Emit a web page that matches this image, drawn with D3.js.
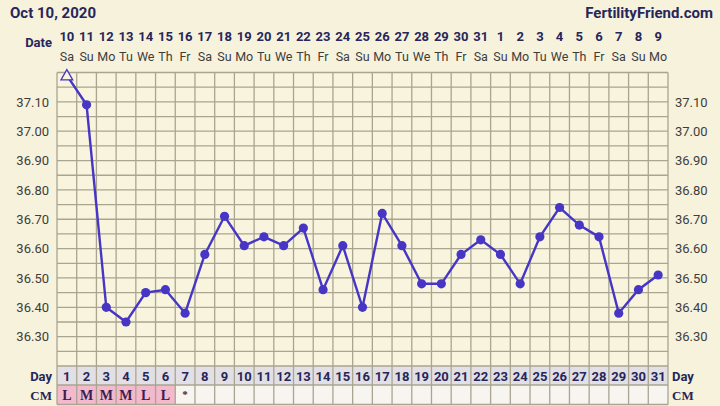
<!DOCTYPE html>
<html><head><meta charset="utf-8">
<script src="https://cdn.jsdelivr.net/npm/d3@7"></script>
<style>
html,body{margin:0;padding:0;background:#f7f2dc;}
svg{display:block;font-family:Roboto,"Noto Sans",sans-serif;}
</style></head>
<body>
<svg id="c" width="720" height="406"></svg>
<script>
const title = "Oct 10, 2020";
const site = "FertilityFriend.com";
const cycleDays = d3.range(1, 32);
const dates = ["10","11","12","13","14","15","16","17","18","19","20","21","22","23","24","25","26","27","28","29","30","31","1","2","3","4","5","6","7","8","9"];
const weekdays = ["Sa","Su","Mo","Tu","We","Th","Fr","Sa","Su","Mo","Tu","We","Th","Fr","Sa","Su","Mo","Tu","We","Th","Fr","Sa","Su","Mo","Tu","We","Th","Fr","Sa","Su","Mo"];
const temps = [37.19,37.09,36.40,36.35,36.45,36.46,36.38,36.58,36.71,36.61,36.64,36.61,36.67,36.46,36.61,36.40,36.72,36.61,36.48,36.48,36.58,36.63,36.58,36.48,36.64,36.74,36.68,36.64,36.38,36.46,36.51];
const discarded = [1];
const cm = ["L","M","M","M","L","L","*","","","","","","","","","","","","","","","","","","","","","","","",""];
const yTicks = [36.3,36.4,36.5,36.6,36.7,36.8,36.9,37.0,37.1];

const svg = d3.select("#c");
const X0 = 57, X1 = 668, YT = 72.5, YB = 366, DAYB = 385, CMB = 404.5;
const x = d3.scaleLinear().domain([0.5, 31.5]).range([X0, X1]);
const y = d3.scaleLinear().domain([36.2, 37.2]).range([YB, YT]);
const colW = x(2) - x(1);

// background
svg.append("rect").attr("width",720).attr("height",406).attr("fill","#f7f2dc");
svg.append("rect").attr("x",X0).attr("y",YT).attr("width",X1-X0).attr("height",YB-YT).attr("fill","#f8f4dd");

// table rows
svg.append("g").selectAll("rect").data(cycleDays).join("rect")
  .attr("x", d => x(d) - colW/2).attr("y", YB).attr("width", colW).attr("height", DAYB-YB)
  .attr("fill", "#e2e0e4");
svg.append("g").selectAll("rect").data(cycleDays).join("rect")
  .attr("x", d => x(d) - colW/2).attr("y", DAYB).attr("width", colW).attr("height", CMB-DAYB)
  .attr("fill", (d,i) => (cm[i] && cm[i] !== "*") ? "#f3b9cc" : "#f6f5ef");

// grid
const gridColor = "#a9a591";
const hLines = d3.range(0, 21).map(i => 36.2 + i*0.05);
svg.append("g").selectAll("line").data(hLines).join("line")
  .attr("x1", X0).attr("x2", X1).attr("y1", d => y(d)).attr("y2", d => y(d))
  .attr("stroke", gridColor).attr("stroke-width", 1.3);
svg.append("g").selectAll("line").data(d3.range(0, 32)).join("line")
  .attr("x1", d => x(d + 0.5)).attr("x2", d => x(d + 0.5)).attr("y1", YT).attr("y2", CMB)
  .attr("stroke", gridColor).attr("stroke-width", 1.3);
svg.append("line").attr("x1",X0).attr("x2",X1).attr("y1",DAYB).attr("y2",DAYB).attr("stroke",gridColor).attr("stroke-width",1.3);
svg.append("line").attr("x1",X0).attr("x2",X1).attr("y1",CMB).attr("y2",CMB).attr("stroke",gridColor).attr("stroke-width",1.3);

// y axes
const fmt = d3.format(".2f");
const left = svg.append("g").attr("transform", `translate(${X0-5},0)`)
  .call(d3.axisLeft(y).tickValues(yTicks).tickFormat(fmt).tickSize(0));
const right = svg.append("g").attr("transform", `translate(${X1+4},0)`)
  .call(d3.axisRight(y).tickValues(yTicks).tickFormat(fmt).tickSize(0));
[left, right].forEach(g => {
  g.select(".domain").remove();
  g.selectAll("text").attr("font-family","Roboto,sans-serif").attr("font-size",13).attr("fill","#3d3d3d");
});

// header
svg.append("text").attr("x",10).attr("y",18).text(title)
  .attr("font-size",15).attr("font-weight","bold").attr("fill","#26265a");
svg.append("text").attr("x",713).attr("y",18).attr("text-anchor","end").text(site)
  .attr("font-size",15).attr("font-weight","bold").attr("fill","#26265a");
svg.append("text").attr("x",52).attr("y",47).attr("text-anchor","end").text("Date")
  .attr("font-size",13).attr("font-weight","bold").attr("fill","#26265a");
svg.append("g").selectAll("text").data(cycleDays).join("text")
  .attr("x", d => x(d)).attr("y", 41).attr("text-anchor","middle")
  .text((d,i) => dates[i]).attr("font-size",13).attr("font-weight","bold").attr("fill","#26265a");
svg.append("g").selectAll("text").data(cycleDays).join("text")
  .attr("x", d => x(d)).attr("y", 61).attr("text-anchor","middle")
  .text((d,i) => weekdays[i]).attr("font-size",12.5).attr("fill","#3d3d3d");

// table labels
svg.append("text").attr("x",52).attr("y",381).attr("text-anchor","end").text("Day")
  .attr("font-size",13).attr("font-weight","bold").attr("fill","#26265a");
svg.append("text").attr("x",672).attr("y",381).text("Day")
  .attr("font-size",13).attr("font-weight","bold").attr("fill","#26265a");
svg.append("text").attr("x",52).attr("y",400).attr("text-anchor","end").text("CM")
  .attr("font-size",13).attr("font-weight","bold").attr("fill","#26265a").attr("font-family","'Liberation Serif',serif");
svg.append("text").attr("x",672).attr("y",400).text("CM")
  .attr("font-size",13).attr("font-weight","bold").attr("fill","#26265a").attr("font-family","'Liberation Serif',serif");
svg.append("g").selectAll("text").data(cycleDays).join("text")
  .attr("x", d => x(d)).attr("y", 381).attr("text-anchor","middle").text(d => d)
  .attr("font-size",13).attr("font-weight","bold").attr("fill","#26265a");
svg.append("g").selectAll("text").data(cycleDays).join("text")
  .attr("x", d => x(d)).attr("y", (d,i) => cm[i] === "*" ? 398 : 400).attr("text-anchor","middle").text((d,i) => cm[i])
  .attr("font-size",(d,i) => cm[i] === "*" ? 11 : 14).attr("font-weight","bold").attr("fill","#3a2050")
  .attr("font-family","'Liberation Serif',serif");

// temperature line
const pts = cycleDays.map((d,i) => ({day:d, t:temps[i]}));
const lineColor = "#4736c6";
svg.append("path").datum(pts)
  .attr("d", d3.line().x(d => x(d.day)).y(d => y(d.t)))
  .attr("fill","none").attr("stroke",lineColor).attr("stroke-width",2.4);
svg.append("g").selectAll("circle").data(pts.filter(p => !discarded.includes(p.day))).join("circle")
  .attr("cx", d => x(d.day)).attr("cy", d => y(d.t)).attr("r", 4.6).attr("fill", lineColor);
svg.append("g").selectAll("path").data(pts.filter(p => discarded.includes(p.day))).join("path")
  .attr("d", d3.symbol(d3.symbolTriangle, 60))
  .attr("transform", d => `translate(${x(d.day)},${y(d.t)+1})`)
  .attr("fill","#f8f4dd").attr("stroke",lineColor).attr("stroke-width",1.3);
</script>
</body></html>
